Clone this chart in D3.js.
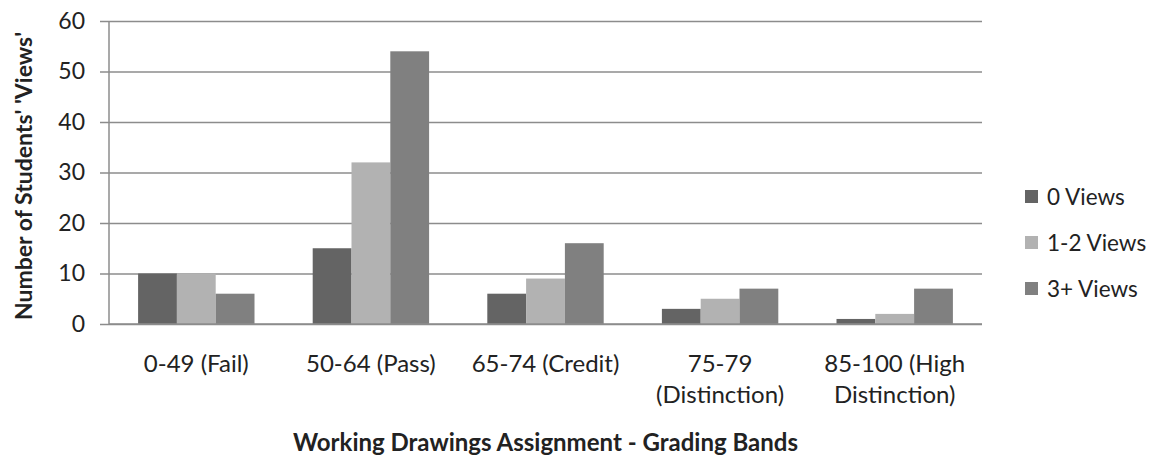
<!DOCTYPE html>
<html>
<head>
<meta charset="utf-8">
<script src="https://cdn.jsdelivr.net/npm/d3@7"></script>
<style>
  html, body { margin: 0; padding: 0; background: #fff; }
  svg text { font-family: Lato, "Open Sans", sans-serif; fill: #222; }
</style>
</head>
<body>
<svg id="chart" width="1157" height="457"></svg>
<script>
// Grading bands and student counts per viewing group
const categories = [
  ["0-49 (Fail)"],
  ["50-64 (Pass)"],
  ["65-74 (Credit)"],
  ["75-79", "(Distinction)"],
  ["85-100 (High", "Distinction)"]
];
const seriesNames = ["0 Views", "1-2 Views", "3+ Views"];
const views0 = [10, 15, 6, 3, 1];
const views12 = [10, 32, 9, 5, 2];
const views3 = [6, 54, 16, 7, 7];
const yTicks = [0, 10, 20, 30, 40, 50, 60];
const colors = ["#646464", "#b2b2b2", "#808080"];
const seriesValues = [views0, views12, views3];

const svg = d3.select("#chart");
const margin = { left: 109, right: 175, top: 21, bottom: 133 };
const W = 1157, H = 457;
const plotW = W - margin.left - margin.right;
const plotH = H - margin.top - margin.bottom;

const g = svg.append("g").attr("transform", `translate(${margin.left},${margin.top})`);

const y = d3.scaleLinear().domain([0, 60]).range([plotH, 0]);
const x0 = d3.scaleBand().domain(d3.range(categories.length)).range([0, plotW])
  .paddingInner(1.5 / 4.5).paddingOuter(0.75 / 4.5);
const x1 = d3.scaleBand().domain(d3.range(seriesNames.length)).range([0, x0.bandwidth()]);

// Horizontal gridlines with short outward ticks
const yAxis = d3.axisLeft(y).tickValues(yTicks).tickSize(-plotW).tickPadding(24);
const ya = g.append("g").call(yAxis);
ya.select(".domain").remove();
ya.selectAll(".tick line").attr("stroke", "#8c8c8c").attr("stroke-width", 1.5).attr("x1", -9);
ya.selectAll(".tick text").attr("font-size", 23).style("fill", "#222");

// Left axis line
g.append("line").attr("x1", 0).attr("x2", 0).attr("y1", 0).attr("y2", plotH)
  .attr("stroke", "#8c8c8c").attr("stroke-width", 1.5);

// Bars
const groups = g.selectAll("g.cat").data(categories).join("g")
  .attr("class", "cat")
  .attr("transform", (d, i) => `translate(${x0(i)},0)`);
groups.selectAll("rect").data((d, i) => seriesValues.map((s, k) => ({ k, v: s[i] })))
  .join("rect")
  .attr("x", d => x1(d.k))
  .attr("width", x1.bandwidth())
  .attr("y", d => y(d.v))
  .attr("height", d => y(0) - y(d.v))
  .attr("fill", d => colors[d.k]);

// Baseline redrawn over bars
g.append("line").attr("x1", 0).attr("x2", plotW).attr("y1", plotH).attr("y2", plotH)
  .attr("stroke", "#8c8c8c").attr("stroke-width", 1.5);

// Category labels
const catStep = plotW / categories.length;
categories.forEach((lines, i) => {
  const t = svg.append("text")
    .attr("x", margin.left + catStep * (i + 0.5))
    .attr("y", 372)
    .attr("text-anchor", "middle")
    .attr("font-size", 24);
  lines.forEach((ln, j) => {
    t.append("tspan").attr("x", margin.left + catStep * (i + 0.5)).attr("dy", j === 0 ? 0 : 31).text(ln);
  });
});

// Axis titles
svg.append("text")
  .attr("x", margin.left + plotW / 2)
  .attr("y", 451)
  .attr("text-anchor", "middle")
  .attr("font-size", 24)
  .attr("font-weight", "bold")
  .text("Working Drawings Assignment - Grading Bands");

svg.append("text")
  .attr("transform", `translate(32,176) rotate(-90)`)
  .attr("text-anchor", "middle")
  .attr("font-size", 23)
  .attr("font-weight", "bold")
  .text("Number of Students' 'Views'");

// Legend
const legend = svg.append("g").attr("transform", "translate(1025,190)");
seriesNames.forEach((name, i) => {
  const row = legend.append("g").attr("transform", `translate(0,${i * 46})`);
  row.append("rect").attr("width", 13).attr("height", 13).attr("fill", colors[i]);
  row.append("text").attr("x", 22).attr("y", 7).attr("dy", "0.36em")
    .attr("font-size", 22.5).text(name);
});
</script>
</body>
</html>
